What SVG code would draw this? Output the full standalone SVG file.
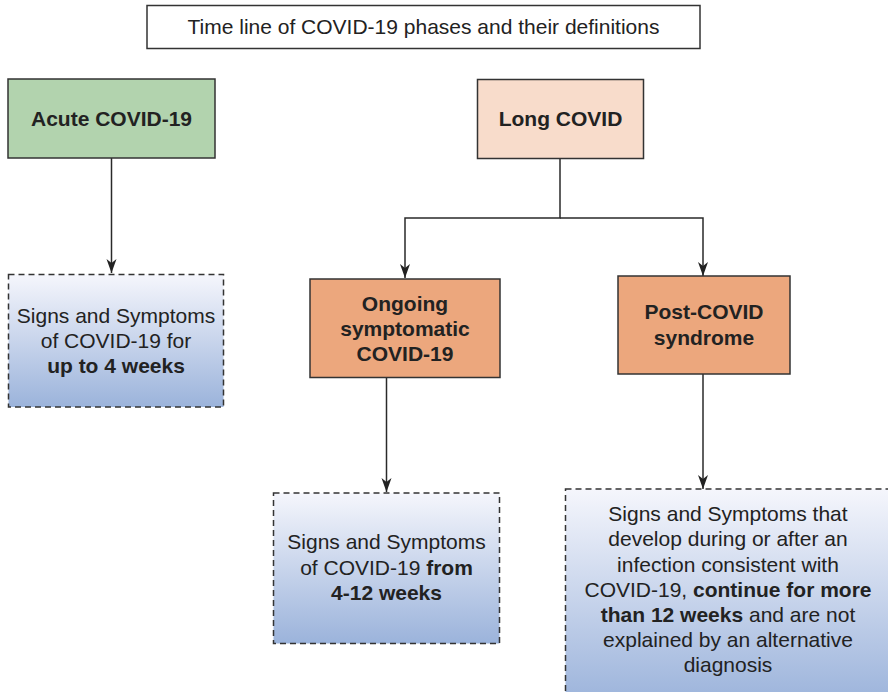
<svg xmlns="http://www.w3.org/2000/svg" width="888" height="692" viewBox="0 0 888 692">
<style>
text{font-family:"Liberation Sans",Arial,Helvetica,sans-serif;font-size:21px;fill:#222;text-anchor:middle}
.b{font-weight:bold}
.box{stroke:#333;stroke-width:1.5}
.dash{stroke:#333;stroke-width:1.5;stroke-dasharray:6,4;fill:url(#blue)}
.conn{stroke:#2a2a2a;stroke-width:1.5;fill:none}
</style>
<defs>
<linearGradient id="blue" x1="0" y1="0" x2="0" y2="1">
<stop offset="0" stop-color="#f5f6fc"/>
<stop offset="1" stop-color="#9bb3db"/>
</linearGradient>
<marker id="arr" markerUnits="userSpaceOnUse" markerWidth="15" markerHeight="11" refX="14" refY="5" orient="auto">
<path d="M0,0 L14,5 L0,10 L4,5 z" fill="#222"/>
</marker>
</defs>
<g id="title">
<rect x="147" y="5.5" width="553" height="43" fill="#fff" class="box"/>
<text x="423.5" y="34">Time line of COVID-19 phases and their definitions</text>
</g>
<g id="connectors">
<line x1="111.5" y1="158" x2="111.5" y2="273" class="conn" marker-end="url(#arr)"/>
<polyline points="560,158 560,218 405,218 405,278" class="conn" marker-end="url(#arr)"/>
<polyline points="560,218 703,218 703,276" class="conn" marker-end="url(#arr)"/>
<line x1="386.5" y1="377" x2="386.5" y2="492" class="conn" marker-end="url(#arr)"/>
<line x1="703" y1="374" x2="703" y2="489" class="conn" marker-end="url(#arr)"/>
</g>
<g id="acute">
<rect x="8" y="79" width="207" height="79" fill="#b2d3ae" class="box"/>
<text x="111.5" y="126" class="b">Acute COVID-19</text>
</g>
<g id="acute-def">
<rect x="8.5" y="274.5" width="215" height="132.5" class="dash"/>
<text x="116" y="323">Signs and Symptoms</text>
<text x="116" y="348">of COVID-19 for</text>
<text x="116" y="373" class="b">up to 4 weeks</text>
</g>
<g id="long">
<rect x="477.5" y="79.5" width="166" height="79" fill="#f8dccb" class="box"/>
<text x="560.5" y="125.5" class="b">Long COVID</text>
</g>
<g id="ongoing">
<rect x="310" y="279" width="190" height="98.5" fill="#eca77d" class="box"/>
<text x="405" y="311" class="b">Ongoing</text>
<text x="405" y="335.5" class="b">symptomatic</text>
<text x="405" y="361" class="b">COVID-19</text>
</g>
<g id="post">
<rect x="618" y="276" width="172" height="98" fill="#eca77d" class="box"/>
<text x="704" y="319" class="b">Post-COVID</text>
<text x="704" y="344.5" class="b">syndrome</text>
</g>
<g id="ongoing-def">
<rect x="273.5" y="493" width="226" height="150.5" class="dash"/>
<text x="386.5" y="548.5">Signs and Symptoms</text>
<text x="386.5" y="574.5">of COVID-19 <tspan class="b">from</tspan></text>
<text x="386.5" y="600" class="b">4-12 weeks</text>
</g>
<g id="post-def">
<rect x="565.5" y="489" width="326" height="215" class="dash"/>
<text x="728" y="521">Signs and Symptoms that</text>
<text x="728" y="546">develop during or after an</text>
<text x="728" y="571.5">infection consistent with</text>
<text x="728" y="597">COVID-19, <tspan class="b">continue for more</tspan></text>
<text x="728" y="622"><tspan class="b">than 12 weeks</tspan> and are not</text>
<text x="728" y="647">explained by an alternative</text>
<text x="728" y="672">diagnosis</text>
</g>
</svg>
